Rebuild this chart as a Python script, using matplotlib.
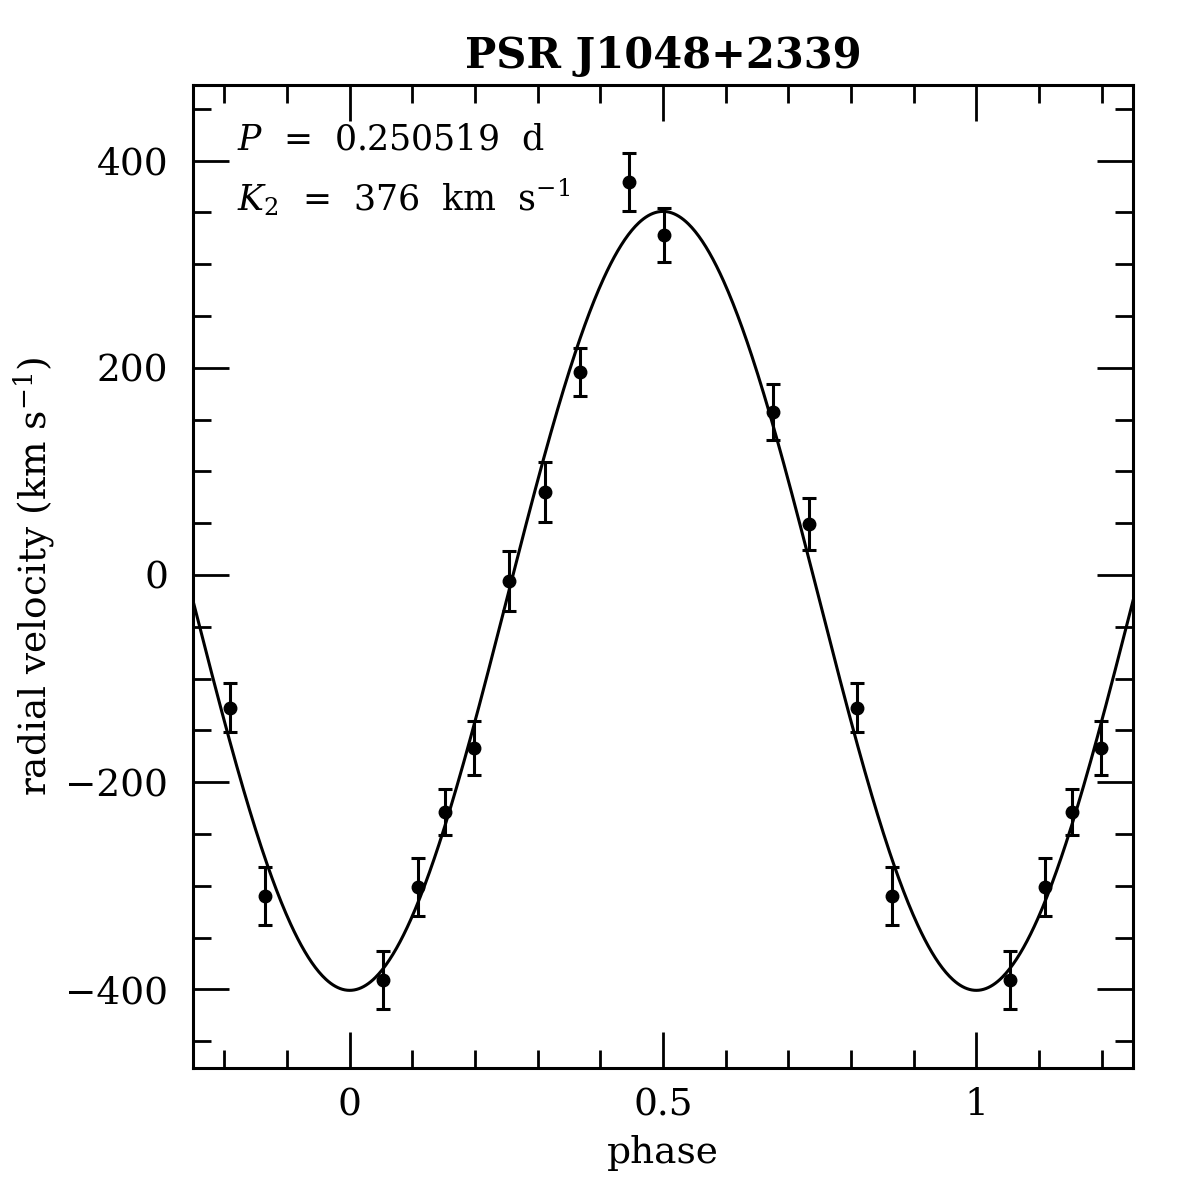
import numpy as np
import matplotlib
matplotlib.use("Agg")
import matplotlib.pyplot as plt
from matplotlib.ticker import MultipleLocator

# ---- data ----
phase = [0.053, 0.109, 0.152, 0.199, 0.255, 0.311, 0.367, 0.446, 0.501,
         0.675, 0.733, 0.809, 0.865]
velocity = [-391, -301, -229, -167, -6, 80, 196, 379, 328,
            157, 49, -128, -310]
error = [28, 28, 22, 26, 29, 29, 23, 28, 26, 27, 25, 24, 28]

gamma = -25.0      # systemic velocity (km/s)
K2 = 376.0         # semi-amplitude (km/s)
title = "PSR J1048+2339"
xticks = [0, 0.5, 1]
xticklabels = ["0", "0.5", "1"]
yticks = [-400, -200, 0, 200, 400]
yticklabels = ["\u2212400", "\u2212200", "0", "200", "400"]

plt.rcParams['font.family'] = ['DejaVu Serif']
plt.rcParams['mathtext.fontset'] = 'dejavuserif'

fig = plt.figure(figsize=(11.96, 11.96), dpi=100)
ax = fig.add_axes([0.1614, 0.1070, 0.9473 - 0.1614, 0.9289 - 0.1070])

xmin, xmax = -0.25, 1.25
ax.set_xlim(xmin, xmax)
ax.set_ylim(-476, 473)

# model curve
xx = np.linspace(xmin, xmax, 800)
ax.plot(xx, gamma - K2 * np.cos(2 * np.pi * xx), color='black', lw=2.2)

# data, repeated over the displayed phase range
ph = np.array(phase)
v = np.array(velocity)
e = np.array(error)
for shift in (-1, 0, 1):
    p = ph + shift
    m = (p >= xmin) & (p <= xmax)
    ax.errorbar(p[m], v[m], yerr=e[m], fmt='o', color='black', ms=9,
                elinewidth=2.2, capsize=5, capthick=2.2)

# ticks
ax.set_xticks(xticks)
ax.set_xticklabels(xticklabels)
ax.set_yticks(yticks)
ax.set_yticklabels(yticklabels)
ax.xaxis.set_minor_locator(MultipleLocator(0.1))
ax.yaxis.set_minor_locator(MultipleLocator(50))
ax.tick_params(which='both', direction='in', top=True, right=True, width=2.0)
ax.tick_params(which='major', length=26, labelsize=27)
ax.tick_params(axis='y', which='major', pad=18)
ax.tick_params(axis='x', which='major', pad=14)
ax.tick_params(which='minor', length=13)
for s in ax.spines.values():
    s.set_linewidth(2.2)

ax.set_xlabel("phase", fontsize=27, labelpad=8)
ax.set_ylabel(r"radial velocity (km s$^{-1}$)", fontsize=27, labelpad=6)
ax.set_title(title, fontsize=30, fontweight='bold', pad=12)

ax.text(0.047, 0.962, r"$P$  =  0.250519  d", transform=ax.transAxes,
        fontsize=25, va='top', ha='left')
ax.text(0.047, 0.907, r"$K_2$  =  376  km  s$^{-1}$", transform=ax.transAxes,
        fontsize=25, va='top', ha='left')

fig.savefig("out.png", dpi=100)
